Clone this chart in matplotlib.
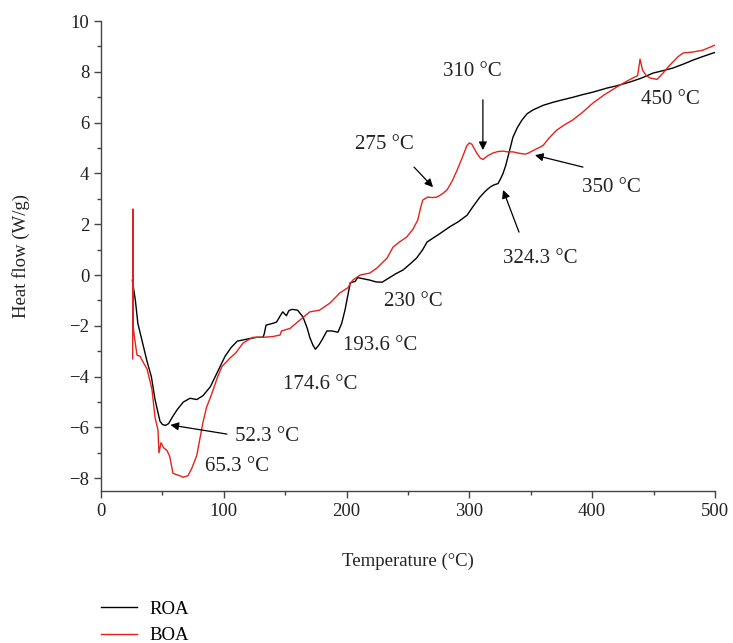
import matplotlib
matplotlib.use('Agg')
import matplotlib.pyplot as plt
from matplotlib.ticker import MultipleLocator

plt.rcParams['font.family'] = ['Liberation Serif', 'DejaVu Serif']
plt.rcParams['font.size'] = 13

# ROA (black) DSC trace: temperature (°C), heat flow (W/g)
roa_t = [25.5, 28, 30, 34, 37.5, 41, 44, 48, 50, 52.3, 55, 58, 62, 67, 72.5, 78, 83, 89,
         95, 101, 106, 111, 116, 121, 127, 132, 133, 134.4, 140, 143, 146, 148, 151, 153,
         155.5, 160, 164.5, 168, 170, 172.5, 174.6, 177.5, 180, 184, 188, 193, 196, 198.7,
         201, 203, 207, 209, 214, 219, 224, 229, 235, 240, 246, 252, 257, 262, 265.5, 275,
         284, 291, 298, 303, 308.6, 313, 316.8, 320, 323.3, 325.5, 327.4, 329.5, 331.4,
         333.5, 335.5, 339, 342.8, 347, 351.8, 360, 368, 376, 384.4, 392, 400.6, 412, 420,
         430.8, 440, 449.5, 458, 465.8, 474, 482, 490, 498.4, 500]
roa_h = [-0.2, -1.0, -1.9, -2.7, -3.4, -4.0, -4.9, -5.75, -5.88, -5.92, -5.85, -5.6, -5.3,
         -5.0, -4.85, -4.9, -4.75, -4.4, -3.8, -3.2, -2.85, -2.6, -2.55, -2.5, -2.45, -2.45,
         -2.3, -1.97, -1.9, -1.85, -1.6, -1.45, -1.6, -1.4, -1.35, -1.38, -1.65, -2.1, -2.45,
         -2.75, -2.92, -2.75, -2.55, -2.2, -2.2, -2.25, -1.9, -1.38, -0.8, -0.3, -0.25, -0.1,
         -0.15, -0.2, -0.27, -0.28, -0.1, 0.05, 0.2, 0.45, 0.67, 1.0, 1.3, 1.6, 1.9, 2.1,
         2.35, 2.7, 3.07, 3.3, 3.46, 3.55, 3.6, 3.8, 4.0, 4.3, 4.65, 5.05, 5.43, 5.8, 6.1,
         6.35, 6.5, 6.68, 6.8, 6.9, 7.0, 7.1, 7.2, 7.36, 7.45, 7.6, 7.75, 7.95, 8.05, 8.15,
         8.3, 8.46, 8.6, 8.74, 8.76]

# BOA (red) DSC trace
boa_t = [25.8, 25.9, 26.2, 27, 29.3, 31.8, 34, 37.5, 41.5, 44, 46.4, 47.2, 48.9, 51, 53.7,
         56, 58.6, 61, 64.3, 66.8, 70.8, 74, 78, 83, 86, 90.4, 95, 98.5, 105, 110, 115.6,
         120, 123.8, 132, 140, 145.8, 147, 154, 162, 170, 178, 186.5, 194.6, 201, 205, 211,
         219, 224.8, 233, 237.8, 243, 249, 254, 258, 260, 262, 266, 270, 273.6, 278, 281.8,
         286, 290, 294, 298, 300, 302, 306, 309, 311, 315, 319, 323, 327.4, 331, 335.5, 340,
         345.3, 348, 351.8, 356, 360, 365, 371, 377, 384, 392, 400.6, 410, 420, 427, 434.8,
         437, 439, 441, 444, 447, 452.8, 457.7, 462, 466, 470, 474, 482, 490, 500]
boa_h = [-3.3, 2.6, -2.0, -2.36, -3.15, -3.2, -3.4, -3.7, -4.5, -5.6, -6.1, -7.0, -6.6, -6.8,
         -6.9, -7.15, -7.8, -7.85, -7.9, -7.96, -7.9, -7.6, -7.1, -5.8, -5.2, -4.65, -4.0,
         -3.6, -3.27, -3.05, -2.68, -2.55, -2.45, -2.45, -2.42, -2.36, -2.2, -2.1, -1.77,
         -1.45, -1.38, -1.1, -0.7, -0.5, -0.2, 0.0, 0.08, 0.28, 0.67, 1.1, 1.3, 1.5, 1.8,
         2.17, 2.6, 2.95, 3.07, 3.05, 3.07, 3.2, 3.35, 3.7, 4.13, 4.6, 5.1, 5.2, 5.15, 4.8,
         4.6, 4.55, 4.7, 4.8, 4.86, 4.88, 4.85, 4.85, 4.8, 4.76, 4.8, 4.9, 5.0, 5.1, 5.4, 5.7,
         5.9, 6.1, 6.4, 6.77, 7.1, 7.4, 7.6, 7.8, 7.85, 8.5, 8.07, 7.85, 7.76, 7.7, 7.95,
         8.2, 8.4, 8.6, 8.74, 8.78, 8.85, 9.05]

# labels: (text, text position, arrow tail / tip or None)
peak_labels = ['52.3 °C', '65.3 °C', '174.6 °C', '193.6 °C', '230 °C',
               '275 °C', '310 °C', '350 °C', '324.3 °C', '450 °C']
label_xy = [(135, -6.34), (110.7, -7.52), (178.3, -4.29), (227.2, -2.76), (254, -1.06),
            (230.5, 5.12), (302, 8.0), (416, 3.43), (357.5, 0.67), (464, 6.9)]
arrow_tail = [(102.6, -6.26), None, None, None, None,
              (254.9, 4.25), (311, 6.9), (392.5, 4.25), (340.4, 1.69), None]
arrow_tip = [(56.5, -5.9), None, None, None, None,
             (270.4, 3.46), (311, 4.92), (353.4, 4.72), (327.4, 3.35), None]

fig = plt.figure(figsize=(7.33, 6.43), dpi=100)
ax = fig.add_axes([0.1378, 0.2364, 0.8376, 0.7309])

ax.plot(roa_t, roa_h, color='black', lw=1.0, label='ROA')
ax.plot(boa_t, boa_h, color='#e3231b', lw=1.0, label='BOA')

for text, xy, tail, tip in zip(peak_labels, label_xy, arrow_tail, arrow_tip):
    ax.text(xy[0], xy[1], text, ha='center', va='center', fontsize=15, color='#222222')
    if tip is not None:
        ax.annotate('', xy=tip, xytext=tail,
                    arrowprops=dict(arrowstyle='-|>', color='black', lw=0.9,
                                    mutation_scale=12, shrinkA=0, shrinkB=0))

ax.set_xlim(0, 500)
ax.xaxis.set_major_locator(MultipleLocator(100))
ax.xaxis.set_minor_locator(MultipleLocator(50))
ax.set_yticks(range(-8, 11, 2))
ax.yaxis.set_minor_locator(MultipleLocator(1))
ax.set_ylim(-8.5, 10)
for s in ('top', 'right'):
    ax.spines[s].set_visible(False)
for s in ('left', 'bottom'):
    ax.spines[s].set_color('#444444')
    ax.spines[s].set_linewidth(1.0)
ax.tick_params(which='major', direction='out', length=5, width=1, color='#444444',
               labelsize=13.5, labelcolor='#222222')
ax.tick_params(which='minor', direction='out', length=3, width=1, color='#444444')

ax.set_xlabel('Temperature (°C)', fontsize=13.5, color='#222222', labelpad=24)
ax.set_ylabel('Heat flow (W/g)', fontsize=13.5, color='#222222', labelpad=28)

fig.legend(loc='upper left', bbox_to_anchor=(0.138, 0.066), frameon=False,
           fontsize=13.5, handlelength=1.9, handletextpad=0.65, labelspacing=0.5,
           borderpad=0, borderaxespad=0)

fig.savefig('out.png', dpi=100)
